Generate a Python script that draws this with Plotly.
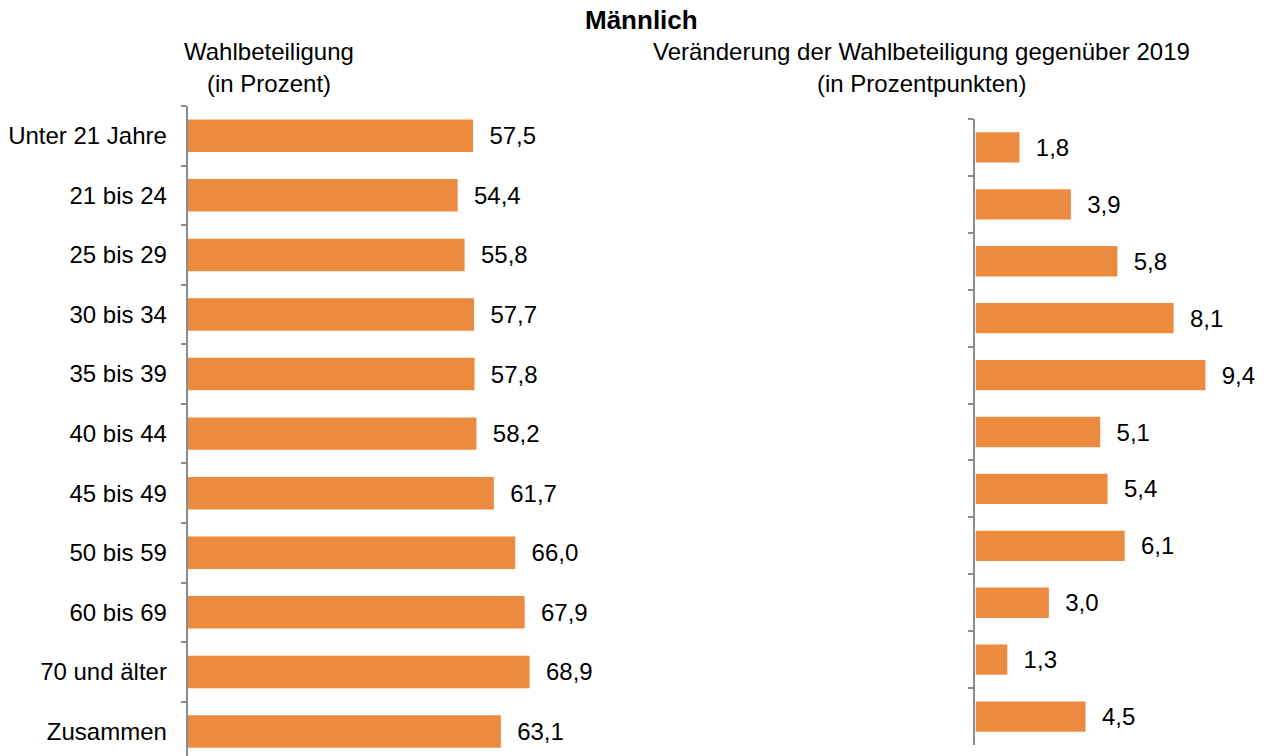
import plotly.graph_objects as go

categories = ["Unter 21 Jahre", "21 bis 24", "25 bis 29", "30 bis 34", "35 bis 39",
              "40 bis 44", "45 bis 49", "50 bis 59", "60 bis 69", "70 und älter", "Zusammen"]
turnout = [57.5, 54.4, 55.8, 57.7, 57.8, 58.2, 61.7, 66.0, 67.9, 68.9, 63.1]
change_2019 = [1.8, 3.9, 5.8, 8.1, 9.4, 5.1, 5.4, 6.1, 3.0, 1.3, 4.5]

title_text = "Männlich"
left_title = ["Wahlbeteiligung", "(in Prozent)"]
right_title = ["Veränderung der Wahlbeteiligung gegenüber 2019", "(in Prozentpunkten)"]

W, H = 1266, 756
OFF = 8  # page body margin offset
BAR = "#EC8B40"
AX = "#8C8C8C"
FONT = "Liberation Sans, Arial, sans-serif"
FS = 24


def fmt(v):
    return "  " + f"{v:.1f}".replace(".", ",")


fig = go.Figure()
fig.add_trace(go.Bar(
    x=turnout, y=categories, orientation="h", xaxis="x", yaxis="y",
    marker=dict(color=BAR, line=dict(width=0)), width=0.545,
    text=[fmt(v) for v in turnout], textposition="outside",
    textfont=dict(family=FONT, size=FS, color="black"), cliponaxis=False,
    hoverinfo="x+y", showlegend=False))
fig.add_trace(go.Bar(
    x=change_2019, y=categories, orientation="h", xaxis="x2", yaxis="y2",
    marker=dict(color=BAR, line=dict(width=0)), width=0.533,
    text=[fmt(v) for v in change_2019], textposition="outside",
    textfont=dict(family=FONT, size=FS, color="black"), cliponaxis=False,
    hoverinfo="x+y", showlegend=False))

lx0 = 186 - OFF
lx1 = lx0 + 80 * 4.97
rx0 = 975 - OFF
rx1 = rx0 + 11 * 24.5

ltop = 106 - OFF
lspace = 59.57
lbottom_val = -0.5 + (H - ltop) / lspace
rtop = 119 - OFF
rbot = 745 - OFF

fig.update_layout(
    width=W, height=H,
    margin=dict(l=0, r=0, t=0, b=0),
    paper_bgcolor="white", plot_bgcolor="white",
    font=dict(family=FONT, size=FS, color="black"),
    xaxis=dict(domain=[lx0 / W, lx1 / W], range=[0, 80], visible=False, anchor="y"),
    yaxis=dict(domain=[0, (H - ltop) / H], type="category", anchor="x",
               categoryorder="array", categoryarray=categories,
               range=[lbottom_val, -0.5], showline=True, linecolor=AX, linewidth=2,
               ticks="outside", tickson="boundaries", ticklen=5, tickcolor=AX,
               tickwidth=2, showgrid=False, zeroline=False,
               ticklabelstandoff=14,
               tickfont=dict(family=FONT, size=FS, color="black")),
    xaxis2=dict(domain=[rx0 / W, rx1 / W], range=[0, 11], visible=False, anchor="y2"),
    yaxis2=dict(domain=[(H - rbot) / H, (H - rtop) / H], type="category", anchor="x2",
                categoryorder="array", categoryarray=categories,
                range=[10.5, -0.5], showline=True, linecolor=AX, linewidth=2,
                ticks="outside", tickson="boundaries", ticklen=5, tickcolor=AX,
                tickwidth=2, showgrid=False, zeroline=False, showticklabels=False),
)

ann = [dict(text="<b>" + title_text + "</b>", x=(640 - OFF) / W, y=1 - (20 - OFF) / H,
            font=dict(family=FONT, size=26, color="black"))]
for i, t in enumerate(left_title):
    ann.append(dict(text=t, x=(267 - OFF) / W, y=1 - (52 + 32 * i - OFF) / H,
                    font=dict(family=FONT, size=FS, color="black")))
for i, t in enumerate(right_title):
    ann.append(dict(text=t, x=(921 - OFF) / W, y=1 - (52 + 32 * i - OFF) / H,
                    font=dict(family=FONT, size=FS, color="black")))
for a in ann:
    a.update(xref="paper", yref="paper", showarrow=False,
             xanchor="center", yanchor="middle")
fig.update_layout(annotations=ann)

fig.write_html("out.html")
